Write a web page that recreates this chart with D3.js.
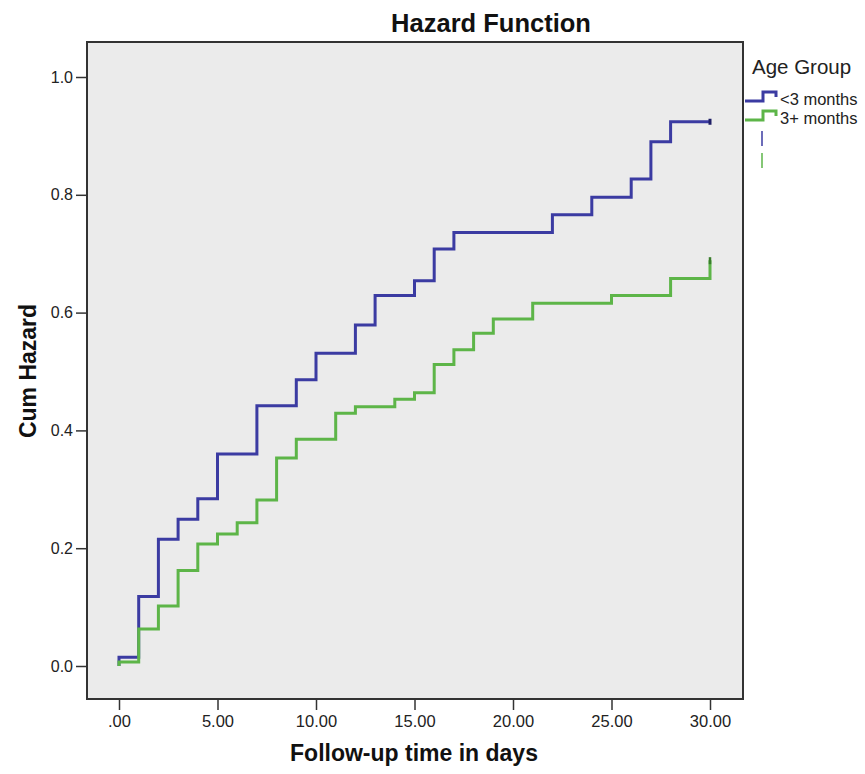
<!DOCTYPE html>
<html><head><meta charset="utf-8">
<script src="https://cdn.jsdelivr.net/npm/d3@7"></script>
<style>body{margin:0;background:#fff}text{font-family:Arial,"Liberation Sans",sans-serif}</style>
</head><body><svg id="c" width="865" height="774"></svg>
<script>
const seriesNames = ["<3 months", "3+ months"];
const blueTimes = [0,1,2,3,4,5,7,9,10,12,13,15,16,17,22,24,26,27,28,30];
const blueHazard = [0.015,0.118,0.215,0.249,0.284,0.360,0.442,0.486,0.531,0.579,0.629,0.654,0.708,0.736,0.766,0.796,0.827,0.890,0.924,0.924];
const greenTimes = [0,1,2,3,4,5,6,7,8,9,11,12,14,15,16,17,18,19,21,25,28,30];
const greenHazard = [0.007,0.063,0.102,0.162,0.207,0.224,0.243,0.282,0.353,0.385,0.429,0.440,0.453,0.464,0.512,0.537,0.565,0.589,0.616,0.629,0.658,0.689];
const xTicks = [0,5,10,15,20,25,30];
const xTickLabels = [".00","5.00","10.00","15.00","20.00","25.00","30.00"];
const yTicks = [0,0.2,0.4,0.6,0.8,1.0];
const yTickLabels = ["0.0","0.2","0.4","0.6","0.8","1.0"];

const svg = d3.select("#c");
const frame = {l:87, t:42, r:743, b:699};
const x = d3.scaleLinear().domain([0,30]).range([119,710]);
const y = d3.scaleLinear().domain([0,1]).range([666,77]);
const blue = "#3b3ba2", green = "#5db548";

svg.append("rect").attr("x",frame.l).attr("y",frame.t).attr("width",frame.r-frame.l).attr("height",frame.b-frame.t)
  .attr("fill","#ebebeb").attr("stroke","#333").attr("stroke-width",2);

// axes
const xAxis = d3.axisBottom(x).tickValues(xTicks).tickFormat((d,i)=>xTickLabels[i]).tickSize(11).tickPadding(5);
const gx = svg.append("g").attr("transform",`translate(0,${frame.b})`).call(xAxis);
gx.select(".domain").remove();
gx.selectAll("line").attr("stroke","#333").attr("stroke-width",1.5);
gx.selectAll("text").attr("font-size",16.5).attr("fill","#222");

const yAxis = d3.axisLeft(y).tickValues(yTicks).tickFormat((d,i)=>yTickLabels[i]).tickSize(11).tickPadding(3);
const gy = svg.append("g").attr("transform",`translate(${frame.l},0)`).call(yAxis);
gy.select(".domain").remove();
gy.selectAll("line").attr("stroke","#333").attr("stroke-width",1.5);
gy.selectAll("text").attr("font-size",16).attr("fill","#222");

// step lines
function pts(ts, vs){ const p=[[0,0]]; ts.forEach((t,i)=>p.push([t,vs[i]])); return p; }
const line = d3.line().x(d=>x(d[0])).y(d=>y(d[1])).curve(d3.curveStepAfter);
svg.append("path").datum(pts(blueTimes,blueHazard)).attr("d",line).attr("fill","none").attr("stroke",blue).attr("stroke-width",3);
svg.append("path").datum(pts(greenTimes,greenHazard)).attr("d",line).attr("fill","none").attr("stroke",green).attr("stroke-width",3);
// censor marks
const bl = blueTimes.length-1, gl = greenTimes.length-1;
svg.append("line").attr("x1",x(blueTimes[bl])).attr("x2",x(blueTimes[bl])).attr("y1",y(blueHazard[bl])-3).attr("y2",y(blueHazard[bl])+3).attr("stroke","#1e1e66").attr("stroke-width",3);
svg.append("line").attr("x1",x(greenTimes[gl])).attr("x2",x(greenTimes[gl])).attr("y1",y(greenHazard[gl])-3).attr("y2",y(greenHazard[gl])+4).attr("stroke","#3a7d2c").attr("stroke-width",2.5);

// title & labels
svg.append("text").attr("x",491).attr("y",32).attr("text-anchor","middle").attr("font-size",25.5).attr("font-weight","bold").attr("fill","#111").text("Hazard Function");
svg.append("text").attr("x",414).attr("y",761).attr("text-anchor","middle").attr("font-size",23).attr("font-weight","bold").attr("fill","#111").text("Follow-up time in days");
svg.append("text").attr("transform","translate(36,371) rotate(-90)").attr("text-anchor","middle").attr("font-size",23).attr("font-weight","bold").attr("fill","#111").text("Cum Hazard");

// legend
svg.append("text").attr("x",752).attr("y",74).attr("font-size",20.5).attr("fill","#222").text("Age Group");
const cols=[blue,green];
seriesNames.forEach((n,i)=>{
  const yb = 101 + i*19;
  svg.append("path").attr("d",`M745,${yb}H763V${yb-9}H776V${yb-4}`).attr("fill","none").attr("stroke",cols[i]).attr("stroke-width",3);
  svg.append("text").attr("x",780).attr("y",yb+4).attr("font-size",16.5).attr("fill","#222").text(n);
  svg.append("line").attr("x1",762).attr("x2",762).attr("y1",131+i*22).attr("y2",146+i*22).attr("stroke",cols[i]).attr("stroke-width",1.5);
});
</script></body></html>
